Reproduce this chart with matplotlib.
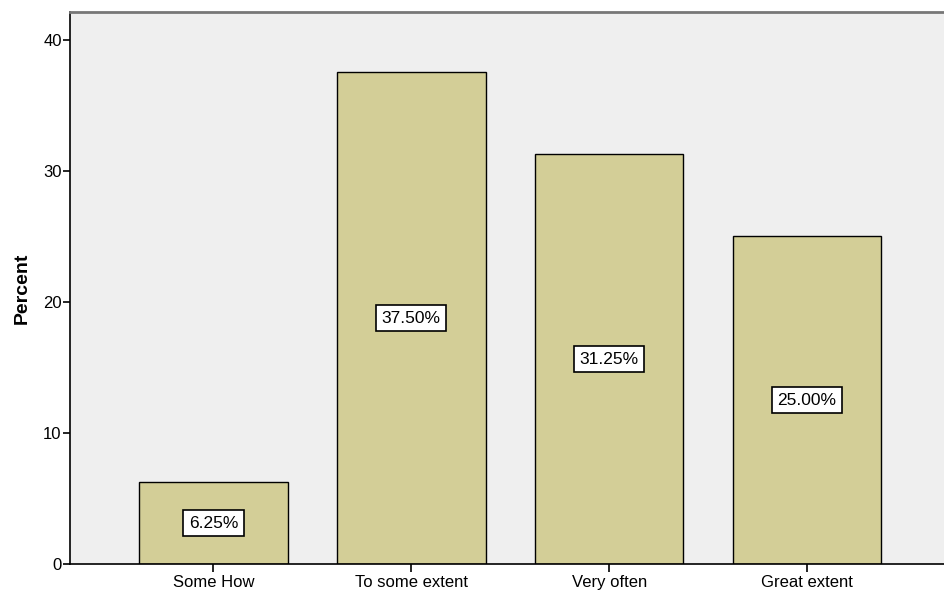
import matplotlib
matplotlib.use("Agg")
import matplotlib.pyplot as plt

plt.rcParams['font.family'] = ['Liberation Sans', 'DejaVu Sans']

categories = ["Some How", "To some extent", "Very often", "Great extent"]
percents = [6.25, 37.50, 31.25, 25.00]
yticks = [0, 10, 20, 30, 40]

fig = plt.figure(figsize=(9.44, 5.96), dpi=100)
ax = fig.add_axes([70 / 944, 32 / 596, 1 - 70 / 944 + 0.01, 552 / 596])
ax.set_facecolor("#efefef")

x = list(range(len(categories)))
ax.bar(x, percents, width=0.75, color="#d3ce97", edgecolor="black", linewidth=1.0, zorder=2)

for xi, p in zip(x, percents):
    ax.text(xi, p / 2, f"{p:.2f}%", ha="center", va="center", fontsize=12.5,
            bbox=dict(boxstyle="square,pad=0.32", fc="white", ec="black", lw=1.2), zorder=3)

ax.set_xlim(-0.725, 3.74)
ax.set_ylim(0, 42.1)
ax.set_xticks(x)
ax.set_xticklabels(categories, fontsize=12)
ax.set_yticks(yticks)
ax.set_yticklabels([str(t) for t in yticks], fontsize=12)
ax.tick_params(axis="y", length=5, width=1.2, pad=1)
ax.tick_params(axis="x", length=6, width=1.2, pad=2)
ax.set_ylabel("Percent", fontsize=14, fontweight="bold", labelpad=9)

ax.spines["right"].set_visible(False)
ax.spines["top"].set_color("#777777")
ax.spines["top"].set_linewidth(2)
ax.spines["left"].set_linewidth(1.2)
ax.spines["bottom"].set_linewidth(1.2)

fig.savefig("out.png", dpi=100)
